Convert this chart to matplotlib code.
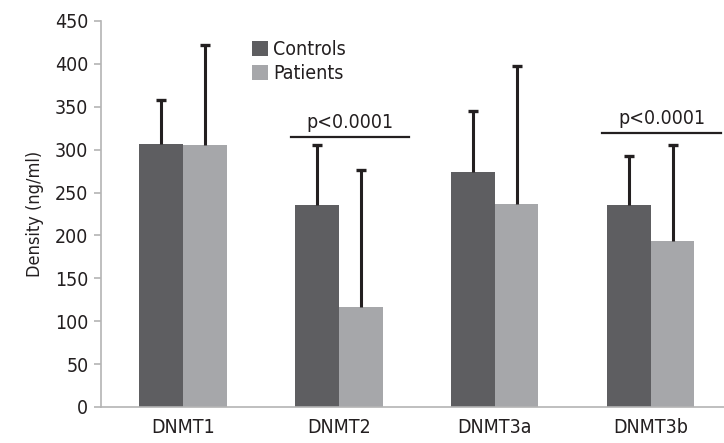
import matplotlib
matplotlib.use("Agg")
import matplotlib.pyplot as plt
import numpy as np
from matplotlib import font_manager

# pick a narrow sans font if one is around
names = {f.name for f in font_manager.fontManager.ttflist}
if "Liberation Sans Narrow" in names:
    plt.rcParams["font.family"] = ["Liberation Sans Narrow", "DejaVu Sans"]
else:
    plt.rcParams["font.family"] = ["DejaVu Sans"]
    plt.rcParams["font.stretch"] = "condensed"

genes = ["DNMT1", "DNMT2", "DNMT3a", "DNMT3b"]
controls = [307, 235, 274, 235]
patients = [305, 117, 237, 193]
controls_err = [51, 71, 71, 58]
patients_err = [117, 159, 160, 113]

# significance brackets: (gene index, height, label)
sig_pairs = [1, 3]
sig_heights = [315, 319]
sig_labels = ["p<0.0001", "p<0.0001"]

c_dark = "#5e5e61"
c_light = "#a6a7aa"
c_err = "#231f20"
c_axis = "#b4b4b4"

fig = plt.figure(figsize=(7.24, 4.43), dpi=100)
ax = fig.add_axes([0.1395, 0.0813, 0.8605, 0.8713])

x = np.arange(len(genes))
w = 0.28
ax.bar(x - w / 2, controls, w, color=c_dark, label="Controls", zorder=2)
ax.bar(x + w / 2, patients, w, color=c_light, label="Patients", zorder=2)

# upper-only error bars with a cap on top
cap = 0.032
for xs, vals, errs in [(x - w / 2, controls, controls_err),
                       (x + w / 2, patients, patients_err)]:
    tops = np.array(vals) + np.array(errs)
    ax.vlines(xs, vals, tops, color=c_err, lw=2.2, zorder=3)
    ax.hlines(tops, xs - cap, xs + cap, color=c_err, lw=2.4, zorder=3)

for i, h, lab in zip(sig_pairs, sig_heights, sig_labels):
    ax.plot([i - 0.31, i + 0.45], [h, h], color=c_err, lw=1.6, zorder=3)
    ax.text(i + 0.07, h + 6, lab, ha="center", va="bottom", fontsize=14,
            color="#231f20")

ax.set_xlim(-0.526, 3.47)
ax.set_ylim(0, 450)
ax.set_yticks(np.arange(0, 451, 50))
ax.set_xticks(x)
ax.set_xticklabels(genes)
ax.set_ylabel("Density (ng/ml)", fontsize=13, color="#231f20", labelpad=8)

for s in ["top", "right"]:
    ax.spines[s].set_visible(False)
for s in ["left", "bottom"]:
    ax.spines[s].set_color(c_axis)
    ax.spines[s].set_linewidth(1.2)
ax.tick_params(axis="y", length=5, width=1.2, color=c_axis, labelsize=14,
               labelcolor="#231f20", pad=4)
ax.tick_params(axis="x", length=0, labelsize=14, labelcolor="#231f20", pad=8)

leg = ax.legend(loc="upper left", bbox_to_anchor=(0.23, 0.97), fontsize=14,
                frameon=False, handlelength=0.8, handleheight=0.8,
                handletextpad=0.3, labelspacing=0.25, borderaxespad=0)
for t in leg.get_texts():
    t.set_color("#231f20")

fig.savefig("out.png", dpi=100)
